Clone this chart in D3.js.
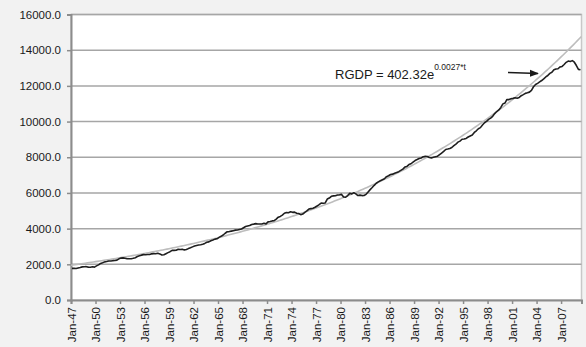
<!DOCTYPE html>
<html>
<head>
<meta charset="utf-8">
<script src="https://cdn.jsdelivr.net/npm/d3@7"></script>
<style>
  html, body { margin: 0; padding: 0; background: #f2f2f2; }
  svg { display: block; font-family: "Liberation Sans", Arial, sans-serif; }
</style>
</head>
<body>
<svg id="chart" width="586" height="347"></svg>
<script>
// Quarterly real GDP, billions of chained 2005 dollars, 1947Q1 - 2009Q2
const startYear = 1947;
const rgdp = [
  1772, 1770, 1768, 1795,   1823, 1857, 1867, 1868,   1842, 1836, 1862, 1843,
  1911, 1967, 2051, 2088,   2136, 2154, 2187, 2187,   2204, 2211, 2233, 2306,
  2349, 2361, 2341, 2313,   2310, 2313, 2335, 2372,   2434, 2477, 2514, 2543,
  2537, 2554, 2548, 2586,   2601, 2596, 2622, 2583,   2519, 2534, 2593, 2655,
  2709, 2784, 2779, 2789,   2846, 2831, 2842, 2807,   2826, 2880, 2925, 2977,
  3028, 3058, 3085, 3095,   3126, 3172, 3233, 3259,   3321, 3363, 3411, 3430,
  3510, 3568, 3642, 3741,   3824, 3834, 3859, 3886,   3915, 3924, 3954, 3982,
  4051, 4115, 4149, 4175,   4233, 4251, 4280, 4263,   4257, 4260, 4296, 4267,
  4377, 4402, 4432, 4444,   4531, 4641, 4684, 4755,   4862, 4903, 4894, 4948,
  4912, 4926, 4864, 4845,   4783, 4819, 4911, 4990,   5095, 5122, 5147, 5200,
  5265, 5348, 5435, 5422,   5440, 5659, 5713, 5813,   5834, 5843, 5886, 5894,
  5918, 5768, 5758, 5854,   5977, 5948, 6007, 5949,   5856, 5878, 5852, 5854,
  5921, 6056, 6184, 6302,   6427, 6543, 6618, 6680,   6738, 6797, 6911, 6963,
  7033, 7053, 7105, 7148,   7193, 7263, 7336, 7448,   7488, 7588, 7636, 7732,
  7814, 7871, 7933, 7956,   8032, 8049, 8045, 7984,   7964, 7998, 8032, 8059,
  8151, 8237, 8327, 8434,   8460, 8494, 8548, 8653,   8731, 8847, 8904, 9008,
  9023, 9053, 9136, 9193,   9244, 9390, 9482, 9598,   9660, 9810, 9935, 10012,
  10121, 10193, 10295, 10446, 10562, 10649, 10794, 10991, 11036, 11240, 11230, 11275,
  11300, 11330, 11310, 11350, 11450, 11510, 11580, 11610, 11650, 11750, 11950, 12080,
  12140, 12220, 12300, 12390, 12500, 12580, 12700, 12760, 12900, 12950, 12960, 13060,
  13090, 13200, 13320, 13390, 13370, 13415, 13325, 13140, 12925, 12900
];

// Exponential trend: RGDP = 402.32 * e^(0.0027 * t), t in months
const trendA = 402.32;
const trendB = 0.0027;
const trendT0 = 586;          // value of t at the first observation (Jan-47)
const trendLabel = "RGDP = 402.32e";
const trendExp = "0.0027*t";

const yTicks = [0, 2000, 4000, 6000, 8000, 10000, 12000, 14000, 16000];
const tickEvery = 12;         // one label every three years of quarters

const months = ["Jan", "Apr", "Jul", "Oct"];
const quarterLabel = i => months[i % 4] + "-" + String((startYear + Math.floor(i / 4)) % 100).padStart(2, "0");

const svg = d3.select("#chart");
const plotLeft = 71, plotRight = 581.5, plotTop = 14.5, plotBottom = 300;

const n = rgdp.length;
const x = d3.scaleLinear().domain([0, n]).range([plotLeft, plotRight]);
const y = d3.scaleLinear().domain([0, 16000]).range([plotBottom, plotTop]);

// plot area
svg.append("rect")
  .attr("x", plotLeft).attr("y", plotTop)
  .attr("width", plotRight - plotLeft).attr("height", plotBottom - plotTop)
  .attr("fill", "#ffffff")
  .attr("stroke", "#c8c8c8").attr("stroke-width", 1.5);

// horizontal grid
svg.append("g").selectAll("line")
  .data(yTicks.filter(d => d > 0))
  .join("line")
  .attr("x1", plotLeft).attr("x2", plotRight)
  .attr("y1", d => y(d)).attr("y2", d => y(d))
  .attr("stroke", "#a6a6a6").attr("stroke-width", 1.5);

// y axis
const yAxis = d3.axisLeft(y).tickValues(yTicks).tickSize(4).tickPadding(6)
  .tickFormat(d3.format(".1f"));
const gy = svg.append("g").attr("transform", `translate(${plotLeft},0)`).call(yAxis);
gy.select(".domain").attr("stroke", "#8c8c8c").attr("stroke-width", 2);
gy.selectAll(".tick line").attr("stroke", "#8c8c8c").attr("stroke-width", 1.5);
gy.selectAll(".tick text").attr("font-size", 11.5).attr("fill", "#1a1a1a")
  .attr("font-family", "Liberation Sans, Arial, sans-serif");

// x axis
const xTickIdx = d3.range(0, n, tickEvery);
const xAxis = d3.axisBottom(x).tickValues(xTickIdx).tickSize(4).tickPadding(3)
  .tickFormat(quarterLabel);
const gx = svg.append("g").attr("transform", `translate(0,${plotBottom})`).call(xAxis);
gx.select(".domain").attr("stroke", "#8c8c8c").attr("stroke-width", 2);
gx.selectAll(".tick line").attr("stroke", "#8c8c8c").attr("stroke-width", 1.5);
gx.selectAll(".tick text")
  .attr("font-size", 11.5).attr("fill", "#1a1a1a")
  .attr("font-family", "Liberation Sans, Arial, sans-serif")
  .attr("text-anchor", "end")
  .attr("dy", "0.35em")
  .attr("transform", "translate(0,7) rotate(-90)")
  .attr("x", 0).attr("y", 0);

// clip for the trend curve
svg.append("clipPath").attr("id", "plotclip")
  .append("rect").attr("x", plotLeft).attr("y", plotTop)
  .attr("width", plotRight - plotLeft).attr("height", plotBottom - plotTop);

// trend curve, evaluated at each quarter boundary (t advances 3 months per quarter)
const trendFull = d3.range(n + 1).map(i => trendA * Math.exp(trendB * (trendT0 + 3 * (i - 0.5))));
svg.append("path")
  .datum(trendFull)
  .attr("clip-path", "url(#plotclip)")
  .attr("d", d3.line().x((d, i) => x(i)).y(d => y(d)))
  .attr("fill", "none").attr("stroke", "#bdbdbd").attr("stroke-width", 1.6);

// real GDP
svg.append("path")
  .datum(rgdp)
  .attr("d", d3.line().x((d, i) => x(i + 0.5)).y(d => y(d)))
  .attr("fill", "none").attr("stroke", "#1e1e1e").attr("stroke-width", 1.6)
  .attr("stroke-linejoin", "round");

// equation annotation
const eq = svg.append("text").attr("x", 335).attr("y", 79)
  .attr("font-size", 13).attr("fill", "#1a1a1a");
eq.append("tspan").text(trendLabel);
eq.append("tspan").attr("dy", -9).attr("font-size", 8.5).text(trendExp);

// arrow
svg.append("defs").append("marker")
  .attr("id", "arrowhead").attr("viewBox", "0 0 10 10")
  .attr("refX", 9).attr("refY", 5)
  .attr("markerWidth", 6).attr("markerHeight", 6)
  .attr("orient", "auto")
  .append("path").attr("d", "M0,1 L10,5 L0,9 Z").attr("fill", "#1a1a1a");
svg.append("line")
  .attr("x1", 508).attr("y1", 72.5).attr("x2", 538).attr("y2", 73.5)
  .attr("stroke", "#1a1a1a").attr("stroke-width", 1.5)
  .attr("marker-end", "url(#arrowhead)");
</script>
</body>
</html>
